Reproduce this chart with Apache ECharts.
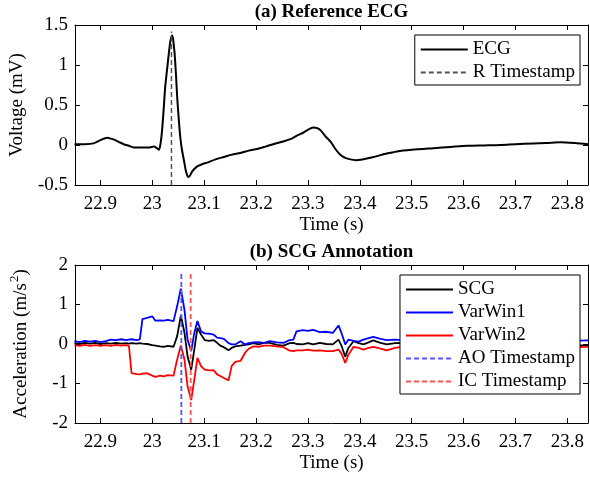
<!DOCTYPE html>
<html><head><meta charset="utf-8">
<script src="https://cdn.jsdelivr.net/npm/echarts@6/dist/echarts.min.js"></script>
<style>html,body{margin:0;padding:0;background:#fff}#c{width:590px;height:479px}</style>
</head><body><div id="c"></div>
<script>
// ---- tick labels ----
const xTicks = [22.9, 23, 23.1, 23.2, 23.3, 23.4, 23.5, 23.6, 23.7, 23.8];
const xRange = [22.851, 23.84];

// ---- (a) ECG ----
const ecgT = [22.850,22.870,22.887,22.900,22.913,22.925,22.935,22.945,22.955,22.964,22.980,22.995,23.003,23.009,23.013,23.016,23.019,23.022,23.025,23.029,23.032,23.035,23.038,23.040,23.043,23.046,23.048,23.051,23.054,23.057,23.061,23.065,23.069,23.073,23.077,23.086,23.096,23.106,23.122,23.138,23.154,23.170,23.186,23.202,23.218,23.233,23.250,23.265,23.280,23.290,23.300,23.310,23.318,23.325,23.335,23.344,23.353,23.363,23.372,23.382,23.392,23.405,23.427,23.450,23.472,23.500,23.542,23.575,23.607,23.640,23.671,23.700,23.735,23.760,23.787,23.815,23.840];
const ecgV = [0.01,0.01,0.02,0.06,0.09,0.07,0.04,0.01,-0.01,-0.03,-0.03,-0.03,-0.02,-0.04,-0.06,0.02,0.19,0.45,0.73,0.97,1.15,1.30,1.37,1.33,1.15,0.85,0.60,0.33,0.10,-0.05,-0.19,-0.33,-0.40,-0.38,-0.33,-0.27,-0.24,-0.22,-0.18,-0.15,-0.12,-0.10,-0.07,-0.05,-0.02,0.01,0.04,0.07,0.12,0.15,0.19,0.22,0.21,0.18,0.10,0.04,-0.05,-0.125,-0.16,-0.18,-0.19,-0.18,-0.15,-0.11,-0.08,-0.06,-0.04,-0.025,-0.01,-0.005,0.00,0.01,0.02,0.025,0.035,0.025,0.01];
const rStampT = [23.037, 23.037];
const rStampV = [-0.5, 1.42];

// ---- (b) SCG ----
const scgT = [22.850,22.860,22.870,22.880,22.890,22.900,22.910,22.920,22.930,22.940,22.950,22.955,22.960,22.970,22.976,22.981,22.990,23.000,23.006,23.015,23.022,23.030,23.041,23.048,23.055,23.062,23.068,23.075,23.081,23.087,23.094,23.101,23.110,23.118,23.125,23.131,23.138,23.147,23.153,23.160,23.170,23.179,23.186,23.195,23.205,23.215,23.227,23.240,23.253,23.265,23.272,23.278,23.290,23.300,23.310,23.323,23.335,23.348,23.359,23.365,23.372,23.378,23.388,23.398,23.407,23.417,23.426,23.440,23.452,23.468,23.484,23.510,23.540,23.570,23.600,23.630,23.660,23.690,23.720,23.750,23.780,23.810,23.840];
const scgV = [0.02,0.00,0.03,0.01,0.03,0.00,0.02,0.01,0.03,0.01,0.02,0.01,0.02,0.01,0.02,0.01,0.00,-0.03,-0.04,-0.06,-0.07,-0.05,-0.07,0.20,0.72,0.29,-0.31,-0.65,-0.14,0.41,0.24,0.10,0.08,0.10,0.03,-0.04,-0.08,-0.16,-0.10,-0.06,-0.04,-0.02,-0.01,0.02,-0.01,0.03,0.03,-0.02,-0.04,0.02,0.03,0.00,-0.01,0.02,-0.01,0.03,0.00,-0.01,0.11,-0.05,-0.32,-0.10,0.07,0.02,-0.01,0.04,0.09,0.03,-0.01,0.02,0.03,0.00,0.02,-0.01,0.01,-0.02,0.01,-0.01,0.01,-0.02,0.00,-0.03,-0.04];
const varWin1V = [0.07,0.05,0.08,0.06,0.08,0.05,0.07,0.11,0.10,0.12,0.10,0.11,0.12,0.10,0.12,0.63,0.66,0.70,0.59,0.60,0.59,0.61,0.58,0.96,1.40,0.87,0.11,-0.18,0.28,0.58,0.32,0.27,0.26,0.24,0.16,0.15,0.13,0.02,-0.01,-0.01,0.07,-0.01,0.02,0.04,0.05,0.03,0.07,0.04,0.03,0.10,0.11,0.32,0.35,0.33,0.36,0.30,0.31,0.28,0.47,0.27,-0.01,0.11,0.08,0.06,0.11,0.15,0.18,0.13,0.10,0.11,0.10,0.08,0.10,0.07,0.09,0.08,0.10,0.08,0.09,0.07,0.09,0.08,0.09];
const varWin2V = [-0.03,-0.05,-0.02,-0.05,-0.03,-0.05,-0.03,-0.05,-0.02,-0.04,-0.03,-0.05,-0.74,-0.76,-0.77,-0.75,-0.74,-0.80,-0.83,-0.80,-0.82,-0.79,-0.80,-0.39,-0.04,-0.39,-1.07,-1.42,-0.90,-0.35,-0.56,-0.65,-0.67,-0.66,-0.77,-0.81,-0.86,-0.92,-0.56,-0.45,-0.43,-0.22,-0.12,-0.06,-0.07,-0.04,-0.04,-0.06,-0.08,-0.17,-0.18,-0.16,-0.16,-0.14,-0.17,-0.16,-0.18,-0.18,-0.14,-0.25,-0.48,-0.27,-0.07,-0.10,-0.14,-0.10,-0.07,-0.12,-0.16,-0.10,-0.07,-0.10,-0.08,-0.11,-0.08,-0.10,-0.07,-0.09,-0.08,-0.10,-0.08,-0.08,-0.07];
const aoStampT = [23.056, 23.056];
const icStampT = [23.074, 23.074];
const stampV2 = [-2, 1.85];

// ---- build ----
const FONT = "'Liberation Serif', 'Times New Roman', serif";
const zip = (a, b) => a.map((v, i) => [v, b[i]]);
const txt = {fontFamily: FONT, fontSize: 19, color: '#000'};

function xPair(grid, title) {
  const common = {
    type: 'value', gridIndex: grid, min: xRange[0], max: xRange[1],
    splitLine: {show: false},
    axisLine: {show: true, onZero: false, lineStyle: {color: '#000', width: 1}},
    axisTick: {show: true, inside: true, length: 5, customValues: xTicks, lineStyle: {color: '#000'}}
  };
  return [
    Object.assign({}, common, {
      position: 'bottom',
      axisLabel: Object.assign({customValues: xTicks, margin: 10, formatter: v => String(+(+v).toFixed(1))}, txt),
      name: 'Time (s)', nameLocation: 'middle', nameGap: 31, nameTextStyle: txt
    }),
    Object.assign({}, common, {
      position: 'top', axisLabel: {show: false},
      name: title, nameLocation: 'middle', nameGap: 3,
      nameTextStyle: Object.assign({}, txt, {fontWeight: 'bold'})
    })
  ];
}
function yPair(grid, min, max, interval, name) {
  const common = {
    type: 'value', gridIndex: grid, min, max, interval,
    splitLine: {show: false},
    axisLine: {show: true, onZero: false, lineStyle: {color: '#000', width: 1}},
    axisTick: {show: true, inside: true, length: 5, lineStyle: {color: '#000'}}
  };
  return [
    Object.assign({}, common, {
      position: 'left',
      axisLabel: Object.assign({margin: 7}, txt),
      name, nameLocation: 'middle', nameGap: 41,
      nameTextStyle: Object.assign({}, txt, {
        rich: {sup: {fontFamily: FONT, fontSize: 13, color: '#000', verticalAlign: 'top', lineHeight: 26, padding: [0, 0, 0, 1]}}
      })
    }),
    Object.assign({}, common, {position: 'right', axisLabel: {show: false}})
  ];
}
function line(name, xi, yi, data, color, width, dashed, smooth) {
  return {
    name, type: 'line', xAxisIndex: xi, yAxisIndex: yi, data,
    symbol: 'none', showSymbol: false, animation: false, z: dashed ? 5 : 3,
    smooth: smooth || false,
    lineStyle: {color, width, type: dashed ? [5, 3] : 'solid'},
    itemStyle: {color}
  };
}
const legendBase = {
  orient: 'vertical', right: 10, backgroundColor: '#fff',
  borderColor: '#000', borderWidth: 1, borderRadius: 0,
  itemWidth: 47, itemHeight: 14, itemGap: 4,
  itemStyle: {opacity: 0, borderWidth: 0},
  textStyle: txt, selectedMode: false
};

const chart = echarts.init(document.getElementById('c'), null, {renderer: 'canvas'});
chart.setOption({
  animation: false,
  backgroundColor: '#fff',
  grid: [
    {left: 71, top: 25, width: 517, height: 160},
    {left: 71, top: 265, width: 517, height: 158}
  ],
  xAxis: [...xPair(0, '(a) Reference ECG'), ...xPair(1, '(b) SCG Annotation')],
  yAxis: [...yPair(0, -0.5, 1.5, 0.5, 'Voltage (mV)'), ...yPair(1, -2, 2, 1, 'Acceleration (m/s{sup|2})')],
  legend: [
    Object.assign({}, legendBase, {top: 35, padding: [5, 5, 3, 5], data: ['ECG', 'R Timestamp']}),
    Object.assign({}, legendBase, {top: 275, padding: [5, 5, 3, 5], data: ['SCG', 'VarWin1', 'VarWin2', 'AO Timestamp', 'IC Timestamp']})
  ],
  series: [
    line('ECG', 0, 0, zip(ecgT, ecgV), '#000', 2, false, 0.25),
    line('R Timestamp', 0, 0, zip(rStampT, rStampV), '#555', 1.5, true),
    line('SCG', 2, 2, zip(scgT, scgV), '#000', 1.8, false),
    line('VarWin1', 2, 2, zip(scgT, varWin1V), '#0000ff', 1.8, false),
    line('VarWin2', 2, 2, zip(scgT, varWin2V), '#ff0000', 1.8, false),
    line('AO Timestamp', 2, 2, zip(aoStampT, stampV2), '#5555ff', 1.8, true),
    line('IC Timestamp', 2, 2, zip(icStampT, stampV2), '#ff5555', 1.8, true)
  ]
});
</script></body></html>
